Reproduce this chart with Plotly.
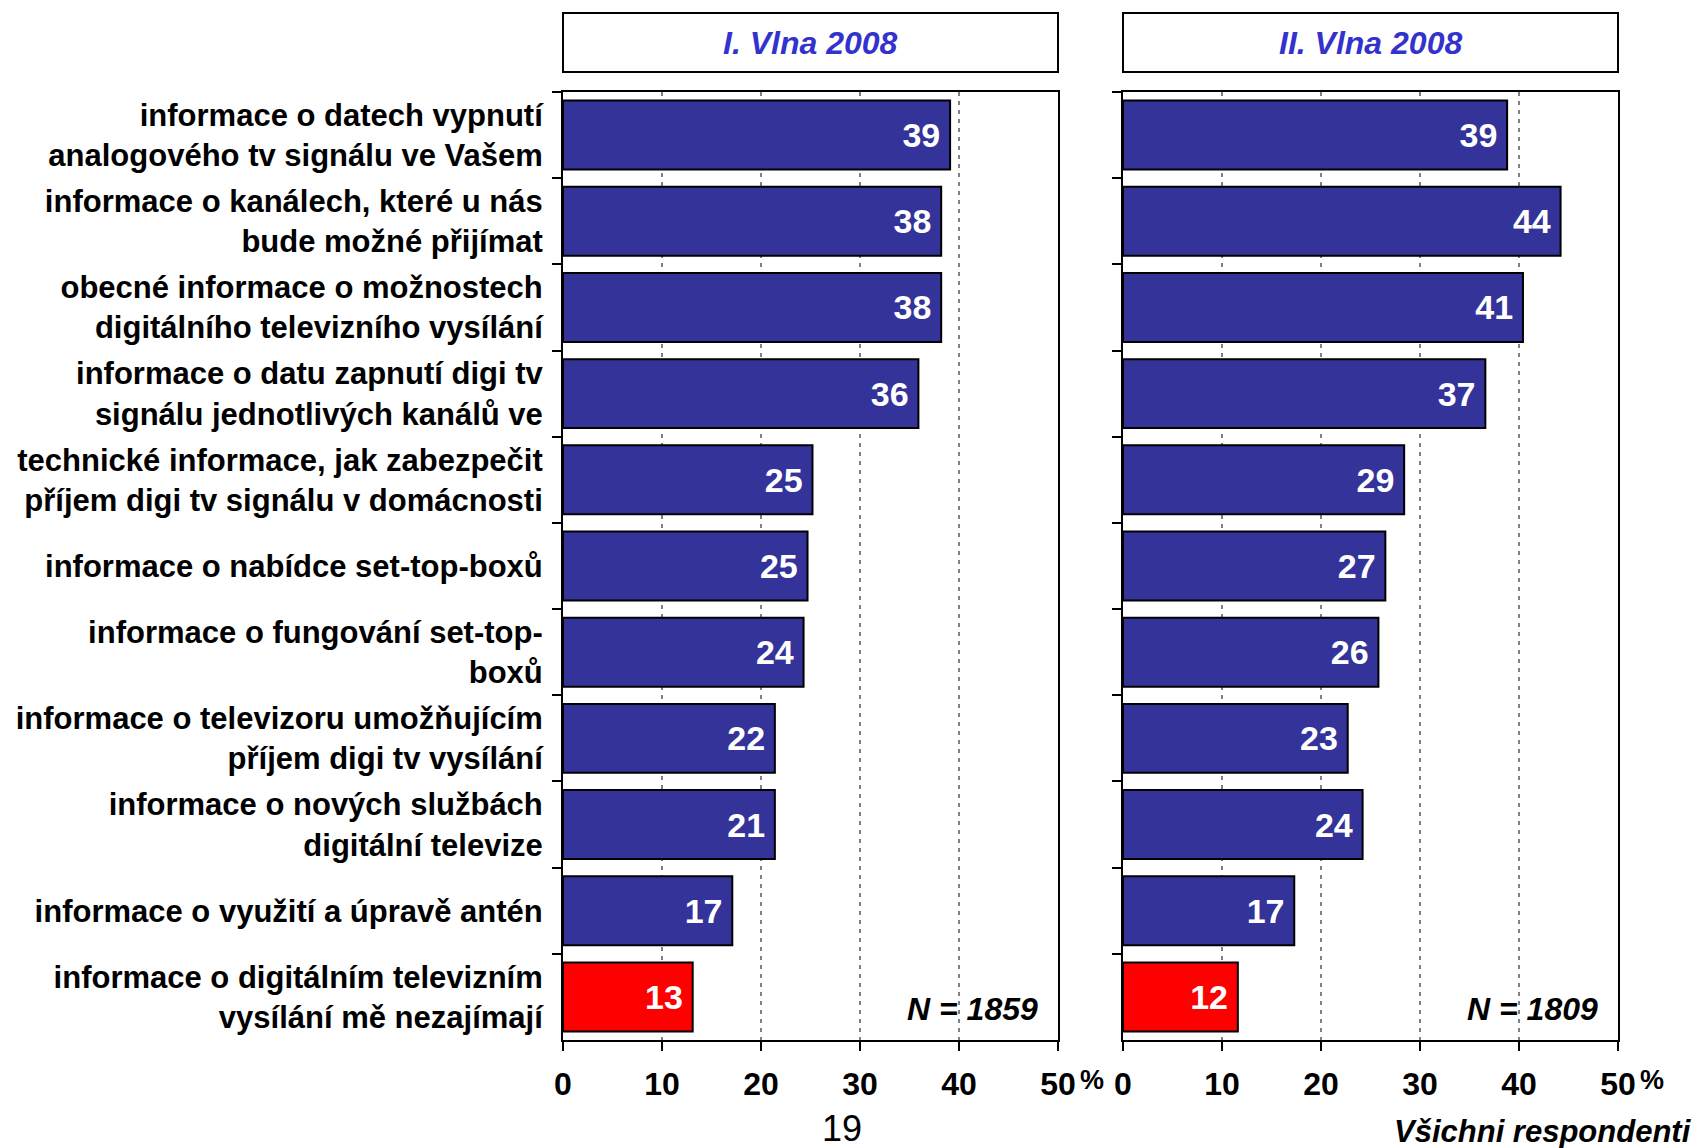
import plotly.graph_objects as go

categories = [
    "informace o datech vypnutí<br>analogového tv signálu ve Vašem",
    "informace o kanálech, které u nás<br>bude možné přijímat",
    "obecné informace o možnostech<br>digitálního televizního vysílání",
    "informace o datu zapnutí digi tv<br>signálu jednotlivých kanálů ve",
    "technické informace, jak zabezpečit<br>příjem digi tv signálu v domácnosti",
    "informace o nabídce set-top-boxů",
    "informace o fungování set-top-<br>boxů",
    "informace o televizoru umožňujícím<br>příjem digi tv vysílání",
    "informace o nových službách<br>digitální televize",
    "informace o využití a úpravě antén",
    "informace o digitálním televizním<br>vysílání mě nezajímají",
]
wave1_values = [39.1, 38.2, 38.2, 35.9, 25.2, 24.7, 24.3, 21.4, 21.4, 17.1, 13.1]
wave1_labels = ["39", "38", "38", "36", "25", "25", "24", "22", "21", "17", "13"]
wave2_values = [38.8, 44.2, 40.4, 36.6, 28.4, 26.5, 25.8, 22.7, 24.2, 17.3, 11.6]
wave2_labels = ["39", "44", "41", "37", "29", "27", "26", "23", "24", "17", "12"]
panel_titles = ["I. Vlna 2008", "II. Vlna 2008"]
sample_sizes = ["N = 1859", "N = 1809"]
x_ticks = [0, 10, 20, 30, 40, 50]
page_number = "19"
footer = "Všichni respondenti"

W, H = 1697, 1148
FONT = "Arial, Liberation Sans, sans-serif"
BLUE = "#333399"
RED = "#FF0000"
colors = [BLUE] * (len(categories) - 1) + [RED]
PAD = "\u2009"

def px(x):
    return x / W

def py(y):
    return 1 - y / H

fig = go.Figure()
for i, (vals, labs) in enumerate([(wave1_values, wave1_labels), (wave2_values, wave2_labels)]):
    fig.add_trace(go.Bar(
        x=vals, y=categories, orientation="h",
        xaxis="x" if i == 0 else "x2", yaxis="y" if i == 0 else "y2",
        width=0.8,
        marker=dict(color=colors, line=dict(color="black", width=2)),
        text=[l + PAD for l in labs], textposition="inside", insidetextanchor="end",
        textangle=0, constraintext="none",
        textfont=dict(color="white", size=34, family=FONT, weight="bold"),
        showlegend=False, hoverinfo="skip",
    ))

x_domains = [[px(563), px(1058)], [px(1123), px(1618)]]
y_domain = [py(1040), py(92)]

axis_common_x = dict(
    range=[0, 50], tickvals=x_ticks, ticks="outside", ticklen=9, tickwidth=2,
    tickcolor="black", showline=True, linecolor="black", linewidth=2, mirror=True,
    showgrid=True, gridcolor="#808080", gridwidth=2, griddash="4px,5px",
    zeroline=False, ticklabelstandoff=6, automargin=False,
    tickfont=dict(size=32, family=FONT, color="black", weight="bold"),
    fixedrange=True,
)
axis_common_y = dict(
    type="category", autorange="reversed", tickson="boundaries",
    ticks="outside", ticklen=9, tickwidth=2, tickcolor="black",
    showline=True, linecolor="black", linewidth=2, mirror=True,
    showgrid=False, domain=y_domain, automargin=False,
    tickfont=dict(size=31, family=FONT, color="black", weight="bold"),
    fixedrange=True,
)

fig.update_layout(
    width=W, height=H, autosize=False,
    margin=dict(l=0, r=0, t=0, b=0, pad=0, autoexpand=False),
    paper_bgcolor="white", plot_bgcolor="white",
    bargap=0.2,
    xaxis=dict(domain=x_domains[0], anchor="y", **axis_common_x),
    xaxis2=dict(domain=x_domains[1], anchor="y2", **axis_common_x),
    yaxis=dict(anchor="x", ticklabelstandoff=12, **axis_common_y),
    yaxis2=dict(anchor="x2", showticklabels=False, **axis_common_y),
)

shapes = []
annotations = []
for i in range(2):
    x0, x1 = x_domains[i]
    shapes.append(dict(type="rect", xref="paper", yref="paper",
                       x0=x0, x1=x1, y0=py(72), y1=py(13),
                       line=dict(color="black", width=2), fillcolor="white"))
    annotations.append(dict(xref="paper", yref="paper", x=(x0 + x1) / 2, y=py(43),
                            text=panel_titles[i], showarrow=False,
                            xanchor="center", yanchor="middle",
                            font=dict(size=32, family=FONT, color="#3333CC",
                                      weight="bold", style="italic")))
    annotations.append(dict(xref="paper", yref="paper", x=x1 - 18 / W, y=py(1009),
                            text=sample_sizes[i], showarrow=False,
                            xanchor="right", yanchor="middle",
                            font=dict(size=32, family=FONT, color="black",
                                      weight="bold", style="italic")))
    annotations.append(dict(xref="x" if i == 0 else "x2", yref="paper",
                            x=x_ticks[-1], y=py(1080), xshift=34,
                            text="%", showarrow=False,
                            xanchor="center", yanchor="middle",
                            font=dict(size=27, family=FONT, color="black",
                                      weight="bold")))

annotations.append(dict(xref="paper", yref="paper", x=px(842), y=py(1128),
                        text=page_number, showarrow=False,
                        xanchor="center", yanchor="middle",
                        font=dict(size=36, family=FONT, color="black")))
annotations.append(dict(xref="paper", yref="paper", x=px(1694), y=py(1131),
                        text=footer, showarrow=False,
                        xanchor="right", yanchor="middle",
                        font=dict(size=31, family=FONT, color="black",
                                  weight="bold", style="italic")))

fig.update_layout(shapes=shapes, annotations=annotations)
fig.write_html(
    "out.html",
    config={"responsive": False, "displayModeBar": False},
    post_script="document.body.style.margin='0';document.body.style.overflow='hidden';",
)
